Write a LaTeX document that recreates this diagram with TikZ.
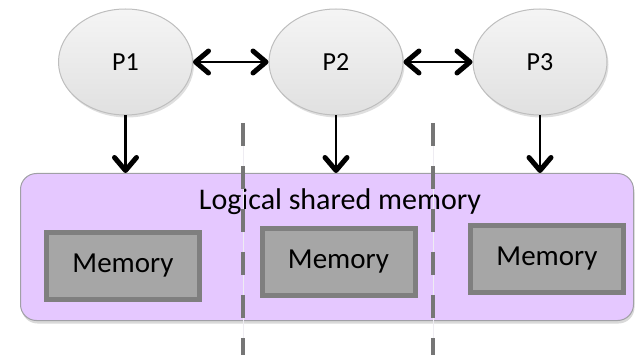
\documentclass[tikz,border=0pt]{standalone}
\usepackage{fontspec}
\setmainfont{Carlito}
\usetikzlibrary{arrows.meta,shapes.geometric,shadows}
\definecolor{procline}{RGB}{190,190,190}
\definecolor{sharedfill}{RGB}{229,200,255}
\definecolor{sharedline}{RGB}{160,160,165}
\definecolor{memfill}{RGB}{166,166,166}
\definecolor{memline}{RGB}{127,127,127}
\definecolor{partline}{RGB}{118,118,118}
\definecolor{partfaint}{RGB}{238,236,242}
\tikzset{
  chev/.tip={Straight Barb[length=13pt,width=22pt,line width=5pt,round]},
  proc/.style={ellipse,draw=procline,line width=1pt,top color=white!96!black,
    bottom color=white!88!black,minimum width=134pt,minimum height=106pt,
    inner sep=0pt,font=\fontsize{26}{28}\selectfont,
    drop shadow={opacity=0.25,shadow xshift=1.5pt,shadow yshift=-2.5pt}},
  shared/.style={rectangle,rounded corners=16pt,draw=sharedline,fill=sharedfill,
    line width=1pt,minimum width=613pt,minimum height=147pt,
    drop shadow={opacity=0.3,shadow xshift=1pt,shadow yshift=-3pt}},
  mem/.style={rectangle,draw=memline,fill=memfill,line width=5pt,
    minimum width=153pt,minimum height=67pt,inner sep=0pt,
    font=\fontsize{29}{31}\selectfont},
  link/.style={line width=2.2pt,black},
  part/.style={line width=4pt,partline,dash pattern=on 23pt off 20pt}
}
\begin{document}
\begin{tikzpicture}[x=1pt,y=-1pt]
    \useasboundingbox (0,0) rectangle (636,355);
    % processors
    \node[proc] (P1) at (125.5,62) {P1};
    \node[proc] (P2) at (336,62) {P2};
    \node[proc] (P3) at (540,62) {P3};
    % shared memory
    \node[shared] (shm) at (327,247) {};
    \node[anchor=base,font=\fontsize{30}{32}\selectfont] (title) at (340,210) {Logical shared memory};
    \node[mem] (M1) at (123,266) {Memory};
    \node[mem] (M2) at (338.5,261.5) {Memory};
    \node[mem] (M3) at (547,259) {Memory};
    % links
    \draw[link,chev-chev] (P1) -- (P2);
    \draw[link,chev-chev] (P2) -- (P3);
    \draw[link,-chev] (P1.south) -- (P1.south |- shm.north);
    \draw[link,-chev] (P2.south) -- (P2.south |- shm.north);
    \draw[link,-chev] (P3.south) -- (P3.south |- shm.north);
    % partitions
    \coordinate (A1) at (243,123);
    \coordinate (B1) at (243,355);
    \coordinate (A2) at (433,123);
    \coordinate (B2) at (433,355);
    \draw[partfaint,line width=0.8pt] (A1) -- (B1);
    \draw[partfaint,line width=0.8pt] (A2) -- (B2);
    \draw[part] (A1) -- (B1);
    \draw[part] (A2) -- (B2);
\end{tikzpicture}
\end{document}
